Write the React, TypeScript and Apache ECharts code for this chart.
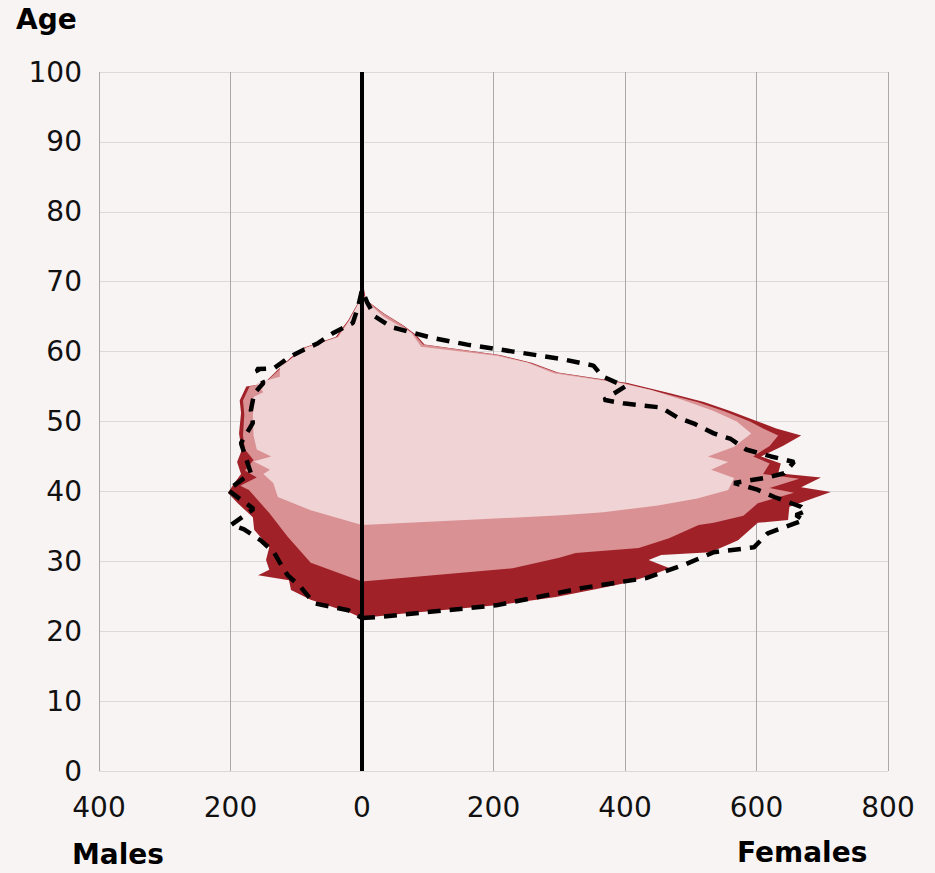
import React, { useEffect, useRef } from "react";
import * as echarts from "echarts";

// x axis ticks (signed), y axis range
const xTicks = [-400, -200, 0, 200, 400, 600, 800];
const ageMax = 100;

// Layer 1 (back, dark red): [age, count]
const darkFemale: number[][] = [
  [21.9, 0], [22.5, 60], [23, 120], [23.7, 204], [24.9, 295], [26, 355], [26.9, 401], [28, 440],
  [29, 468], [30.2, 436], [30.9, 455], [31.3, 530], [32.5, 560], [33, 572], [34.5, 590], [35.5, 602],
  [35.9, 648], [37.8, 650], [39.9, 713], [40.6, 668], [42, 698], [42.6, 633], [44, 637], [45, 607],
  [46.5, 640], [48, 668], [49, 630], [50, 602], [51.5, 560], [52.8, 520], [54, 470], [55.5, 404],
  [57, 298], [58.4, 258], [59.5, 210], [61, 95], [62.4, 82], [63.8, 62], [65.5, 33], [67.4, 6],
  [69, 3], [70.3, 0],
];
const darkMale: number[][] = [
  [21.9, 0], [22.6, 17], [24.5, 78], [25.9, 108], [27.3, 111], [28, 158], [28.8, 141], [30.2, 146],
  [32, 141], [34.5, 164], [36.3, 166], [38.3, 189], [39.8, 204], [41.2, 194], [42.5, 184], [44.2, 190],
  [45.9, 183], [48.3, 187], [51.2, 184], [53, 186], [55, 176], [55.4, 150], [57.4, 128], [59.2, 108],
  [60.6, 88], [62.1, 40], [64.5, 21], [67, 6], [69.3, 2], [70.3, 0],
];

// Layer 2 (middle, medium pink)
const midFemale: number[][] = [
  [27.1, 0], [29, 229], [30.5, 300], [31.2, 325], [31.9, 421], [33.3, 467], [35.2, 512], [35.5, 535],
  [36.5, 580], [38.3, 602], [39.8, 657], [40.5, 620], [41.8, 665], [42.5, 610], [44, 620], [45, 595],
  [46.5, 620], [48, 633], [49, 610], [50, 590], [51.5, 550], [52.8, 510], [54, 460], [55.5, 398],
  [57, 296], [58.4, 255], [59.5, 208], [61, 93], [62.4, 80], [63.8, 61], [65.5, 32], [67.4, 5],
  [69.5, 0],
];
const midMale: number[][] = [
  [27.1, 0], [29.8, 78], [33.5, 113], [36.9, 141], [40.2, 172], [40.8, 185], [42, 160], [43, 178],
  [44.5, 165], [46, 178], [48, 181], [51, 179], [53, 181], [55, 171], [55.5, 148], [57.4, 126],
  [59.2, 106], [60.6, 86], [62.1, 38], [64.5, 20], [67, 5], [69.5, 0],
];

// Layer 3 (front, light pink)
const lightMale: number[][] = [
  [35.2, 0], [37.3, 78], [39.2, 128], [41.2, 135], [42.5, 150], [43.1, 140], [44.3, 165], [45, 138],
  [46, 160], [48, 165], [50.6, 166], [53.5, 165], [54.2, 150], [55.5, 160], [56.4, 125], [57.8, 125],
  [59.2, 104], [60.6, 84], [62.1, 36], [64.5, 19], [67, 5], [69, 0],
];
const lightFemale: number[][] = [
  [35.2, 0], [36, 180], [36.6, 303], [37, 367], [38, 450], [39, 510], [40.2, 557], [41.9, 566],
  [43.1, 531], [44.2, 557], [45, 526], [46.4, 566], [48.3, 592], [50, 570], [51.5, 535], [53, 490],
  [54.5, 440], [55.5, 392], [56.9, 292], [58.4, 252], [59.4, 205], [60.7, 90], [62.7, 75], [65, 33],
  [67.3, 5], [69, 0],
];

// Dashed outline
const dashFemale: number[][] = [
  [21.9, 0], [22, 21], [23.7, 204], [26.2, 336], [27.6, 432], [29.5, 490], [31.3, 535], [32, 596],
  [34, 617], [35.9, 672], [36.6, 660], [37.2, 675], [37.8, 668], [39.2, 627], [40.3, 600], [41.2, 566],
  [42, 617], [42.6, 642], [44.2, 657], [45, 622], [46, 584], [47.5, 561], [48.3, 535], [49.7, 505],
  [50.5, 481], [52, 455], [52.6, 397], [53.1, 368], [55, 400], [56.5, 365], [58, 352], [59, 300],
  [60, 230], [61, 160], [62, 105], [63.5, 45], [65, 20], [67, 8], [68.8, 0],
];
const dashMale: number[][] = [
  [21.9, 0], [23, 21], [23.5, 47], [24, 73], [26.3, 93], [28, 113], [29.5, 123], [31.3, 134],
  [33, 154], [34.6, 180], [35.2, 199], [37.5, 165], [40.2, 204], [42.6, 169], [45.5, 179], [46.9, 184],
  [49.8, 166], [51.6, 169], [54, 164], [55.5, 150], [57.5, 160], [57.6, 134], [59.2, 111], [60.2, 90],
  [61.2, 67], [62.7, 43], [64.1, 14], [66.4, 6], [68.8, 0],
];

const FONT = "DejaVu Sans";

function polygonSeries(female: number[][], male: number[][], color: string, z: number) {
  return {
    type: "custom",
    z,
    silent: true,
    data: [[0, 0]],
    renderItem: (_params: any, api: any) => {
      const pts: number[][] = [];
      female.forEach(([a, v]) => pts.push(api.coord([v, a])));
      male.slice().reverse().forEach(([a, v]) => pts.push(api.coord([-v, a])));
      return { type: "polygon", shape: { points: pts }, style: { fill: color } };
    },
  };
}

export default function App() {
  const ref = useRef<HTMLDivElement>(null);
  useEffect(() => {
    if (!ref.current) return;
    const chart = echarts.init(ref.current, null, { renderer: "svg" });
    const dashData = [
      ...dashFemale.map(([a, v]) => [v, a]),
      ...dashMale.slice().reverse().map(([a, v]) => [-v, a]),
    ];
    chart.setOption({
      animation: false,
      backgroundColor: "#f9f4f4",
      grid: { left: 99, right: 47, top: 72, bottom: 102 },
      xAxis: {
        type: "value",
        min: xTicks[0],
        max: xTicks[xTicks.length - 1],
        interval: 200,
        axisLine: { show: false },
        axisTick: { show: false },
        splitLine: { show: true, lineStyle: { color: "#a9a9a9", width: 1 } },
        axisLabel: {
          formatter: (v: number) => String(Math.abs(v)),
          fontFamily: FONT,
          fontSize: 28,
          color: "#111",
          margin: 22,
        },
      },
      yAxis: {
        type: "value",
        min: 0,
        max: ageMax,
        interval: 10,
        axisLine: { show: false },
        axisTick: { show: false },
        splitLine: { show: true, lineStyle: { color: "#dadada", width: 1 } },
        axisLabel: { fontFamily: FONT, fontSize: 28, color: "#111", margin: 17 },
      },
      graphic: [
        { type: "text", left: 16, top: 5, style: { text: "Age", font: `bold 28px '${FONT}'`, fill: "#000" } },
        { type: "text", left: 72, top: 840, style: { text: "Males", font: `bold 28px '${FONT}'`, fill: "#000" } },
        { type: "text", left: 737, top: 838, style: { text: "Females", font: `bold 28px '${FONT}'`, fill: "#000" } },
      ],
      series: [
        polygonSeries(darkFemale, darkMale, "#a02228", 2),
        polygonSeries(midFemale, midMale, "#d99194", 3),
        polygonSeries(lightFemale, lightMale, "#f0d3d5", 4),
        {
          type: "line",
          z: 5,
          silent: true,
          showSymbol: false,
          data: dashData,
          lineStyle: { color: "#000", width: 4.5, type: [13, 9] },
        },
        {
          type: "line",
          z: 6,
          silent: true,
          showSymbol: false,
          data: [[0, 0], [0, ageMax]],
          lineStyle: { color: "#000", width: 4 },
        },
      ],
    });
    return () => chart.dispose();
  }, []);
  return <div ref={ref} style={{ width: 935, height: 873, position: "absolute", left: 0, top: 0 }} />;
}
